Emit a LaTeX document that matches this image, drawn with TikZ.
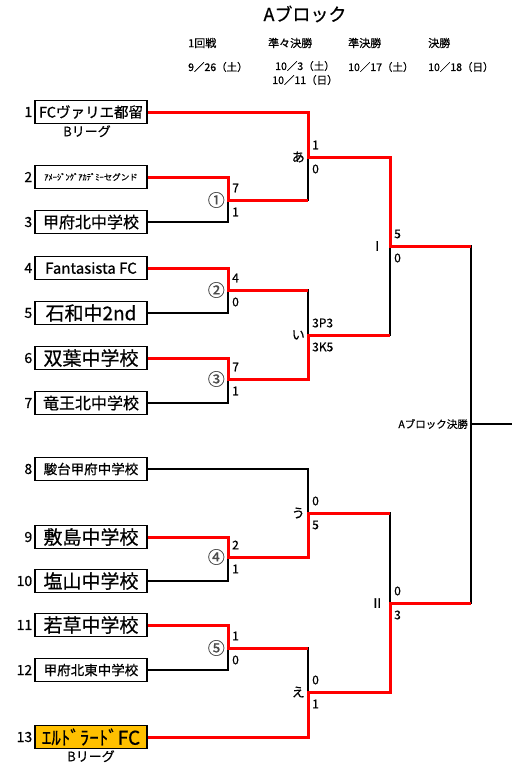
\documentclass[tikz,border=0pt]{standalone}
\usepackage{fontspec}
\setmainfont{Noto Sans CJK JP}[UprightFeatures={FakeBold=0.6}]
\usetikzlibrary{calc}
\definecolor{bleague}{RGB}{255,192,0}
\newcommand{\fsz}[1]{\fontsize{#1}{#1}\selectfont}

\begin{document}
\begin{tikzpicture}[
x=1pt, y=-1pt,
team/.style={draw, line width=1.2pt, minimum width=112pt, minimum height=23pt, inner sep=0pt},
seed/.style={anchor=east, inner sep=2pt, font=\fsz{14}},
won/.style={red, line width=3pt},
lost/.style={black, line width=1.2pt},
score/.style={anchor=west, inner sep=0pt, font=\fsz{12}},
tag/.style={anchor=east, inner sep=0pt, font=\fsz{13}},
head/.style={anchor=west, inner sep=0pt, font=\fsz{11}}
]
\useasboundingbox (0,0) rectangle (529,777);

% header
\node[font=\fsz{18}] (title) at (305,14) {Aブロック};
\node[head] (r1) at (188,43) {1回戦};
\node[head] (r2) at (268,43) {準々決勝};
\node[head] (r3) at (348,43) {準決勝};
\node[head] (r4) at (428,43) {決勝};
\node[head, font=\fsz{10.5}] (d1) at (188,67) {9／26（土）};
\node[head, font=\fsz{10.5}, anchor=center] (d2) at (305,66) {10／3（土）};
\node[head, font=\fsz{10.5}, anchor=center] (d3) at (305,80) {10／11（日）};
\node[head, font=\fsz{10.5}] (d4) at (348,67) {10／17（土）};
\node[head, font=\fsz{10.5}] (d5) at (428,67) {10／18（日）};

% teams
\node[team, font=\fsz{14.5}] (t1) at (91,112) {FCヴァリエ都留};
\node[team, font=\fsz{8.5}] (t2) at (91,177) {ｱﾒｰｼﾞﾝｸﾞｱｶﾃﾞﾐｰセグンド};
\node[team, font=\fsz{16}] (t3) at (91,222) {甲府北中学校};
\node[team, font=\fsz{15}] (t4) at (91,268) {Fantasista FC};
\node[team, font=\fsz{19}] (t5) at (91,313) {石和中2nd};
\node[team, font=\fsz{19}] (t6) at (91,358) {双葉中学校};
\node[team, font=\fsz{16}] (t7) at (91,403) {竜王北中学校};
\node[team, font=\fsz{13.5}] (t8) at (91,469) {駿台甲府中学校};
\node[team, font=\fsz{19}] (t9) at (91,537) {敷島中学校};
\node[team, font=\fsz{19}] (t10) at (91,581) {塩山中学校};
\node[team, font=\fsz{19}] (t11) at (91,625) {若草中学校};
\node[team, font=\fsz{13.5}] (t12) at (91,670) {甲府北東中学校};
\node[team, fill=bleague, font=\fsz{19}] (t13) at (91,737) {ｴﾙﾄﾞﾗｰﾄﾞFC};

\node[seed] (n1) at (t1.west) {1};
\node[seed] (n2) at (t2.west) {2};
\node[seed] (n3) at (t3.west) {3};
\node[seed] (n4) at (t4.west) {4};
\node[seed] (n5) at (t5.west) {5};
\node[seed] (n6) at (t6.west) {6};
\node[seed] (n7) at (t7.west) {7};
\node[seed] (n8) at (t8.west) {8};
\node[seed] (n9) at (t9.west) {9};
\node[seed] (n10) at (t10.west) {10};
\node[seed] (n11) at (t11.west) {11};
\node[seed] (n12) at (t12.west) {12};
\node[seed] (n13) at (t13.west) {13};

\node[font=\fsz{13}, anchor=north, inner sep=1pt] (lg1) at ($(t1.south)+(-4,0)$) {Bリーグ};
\node[font=\fsz{13}, anchor=north, inner sep=1pt] (lg13) at (t13.south) {Bリーグ};

% junctions
\coordinate (m1) at (228,200);
\coordinate (m2) at (228,290);
\coordinate (m3) at (228,379);
\coordinate (m4) at (228,557);
\coordinate (m5) at (228,648);
\coordinate (qa) at (308,157);
\coordinate (qi) at (308,335);
\coordinate (qu) at (308,513);
\coordinate (qe) at (308,692);
\coordinate (s1) at (390,246);
\coordinate (s2) at (390,603);
\coordinate (f) at (471,424);
\coordinate (fend) at (512,424);

% bracket
\draw[lost] (t2.east) -| (m1) |- (t3.east);
\draw[lost] (t4.east) -| (m2) |- (t5.east);
\draw[lost] (t6.east) -| (m3) |- (t7.east);
\draw[lost] (t9.east) -| (m4) |- (t10.east);
\draw[lost] (t11.east) -| (m5) |- (t12.east);
\draw[lost] (t1.east) -| (qa) |- (m1);
\draw[lost] (m2) -| (qi) |- (m3);
\draw[lost] (t8.east) -| (qu) |- (m4);
\draw[lost] (m5) -| (qe) |- (t13.east);
\draw[lost] (qa) -| (s1) |- (qi);
\draw[lost] (qu) -| (s2) |- (qe);
\draw[lost] (s1) -| (f) |- (s2);
\draw[lost] (f) -- (fend);

% winners
\draw[won] (t1.east) -| (qa) -| (s1) -- (s1 -| f);
\draw[won] (t2.east) -| (m1) -- (m1 -| qa);
\draw[won] (t4.east) -| (m2) -- (m2 -| qi);
\draw[won] (t6.east) -| (m3) -| (qi) -- (qi -| s1);
\draw[won] (t9.east) -| (m4) -| (qu) -- (qu -| s2);
\draw[won] (t11.east) -| (m5) -- (m5 -| qe);
\draw[won] (t13.east) -| (qe) -| (s2) -- (s2 -| f);

% scores
\node[score] (m1a) at ($(m1)+(4,-12)$) {7};   \node[score] (m1b) at ($(m1)+(4,12)$) {1};
\node[score] (m2a) at ($(m2)+(4,-12)$) {4};   \node[score] (m2b) at ($(m2)+(4,12)$) {0};
\node[score] (m3a) at ($(m3)+(4,-12)$) {7};   \node[score] (m3b) at ($(m3)+(4,12)$) {1};
\node[score] (m4a) at ($(m4)+(4,-12)$) {2};   \node[score] (m4b) at ($(m4)+(4,12)$) {1};
\node[score] (m5a) at ($(m5)+(4,-12)$) {1};   \node[score] (m5b) at ($(m5)+(4,12)$) {0};
\node[score] (qaa) at ($(qa)+(4,-12)$) {1};   \node[score] (qab) at ($(qa)+(4,12)$) {0};
\node[score] (qia) at ($(qi)+(4,-12)$) {3P3}; \node[score] (qib) at ($(qi)+(4,12)$) {3K5};
\node[score] (qua) at ($(qu)+(4,-12)$) {0};   \node[score] (qub) at ($(qu)+(4,12)$) {5};
\node[score] (qea) at ($(qe)+(4,-12)$) {0};   \node[score] (qeb) at ($(qe)+(4,12)$) {1};
\node[score] (s1a) at ($(s1)+(4,-12)$) {5};   \node[score] (s1b) at ($(s1)+(4,12)$) {0};
\node[score] (s2a) at ($(s2)+(4,-12)$) {0};   \node[score] (s2b) at ($(s2)+(4,12)$) {3};

% match names
\node[tag, font=\fsz{17}, gray!60!black] (m1n) at ($(m1)+(-3,0)$) {①};
\node[tag, font=\fsz{17}, gray!60!black] (m2n) at ($(m2)+(-3,0)$) {②};
\node[tag, font=\fsz{17}, gray!60!black] (m3n) at ($(m3)+(-3,0)$) {③};
\node[tag, font=\fsz{17}, gray!60!black] (m4n) at ($(m4)+(-3,0)$) {④};
\node[tag, font=\fsz{17}, gray!60!black] (m5n) at ($(m5)+(-3,0)$) {⑤};
\node[tag] (qan) at ($(qa)+(-3,0)$) {あ};
\node[tag] (qin) at ($(qi)+(-3,0)$) {い};
\node[tag] (qun) at ($(qu)+(-3,0)$) {う};
\node[tag] (qen) at ($(qe)+(-3,0)$) {え};
\node[tag] (s1n) at ($(s1)+(-6,0)$) {Ⅰ};
\node[tag] (s2n) at ($(s2)+(-6,0)$) {Ⅱ};
\node[tag, font=\fsz{10.5}] (fn) at ($(f)+(-3,0)$) {Aブロック決勝};
\end{tikzpicture}
\end{document}
